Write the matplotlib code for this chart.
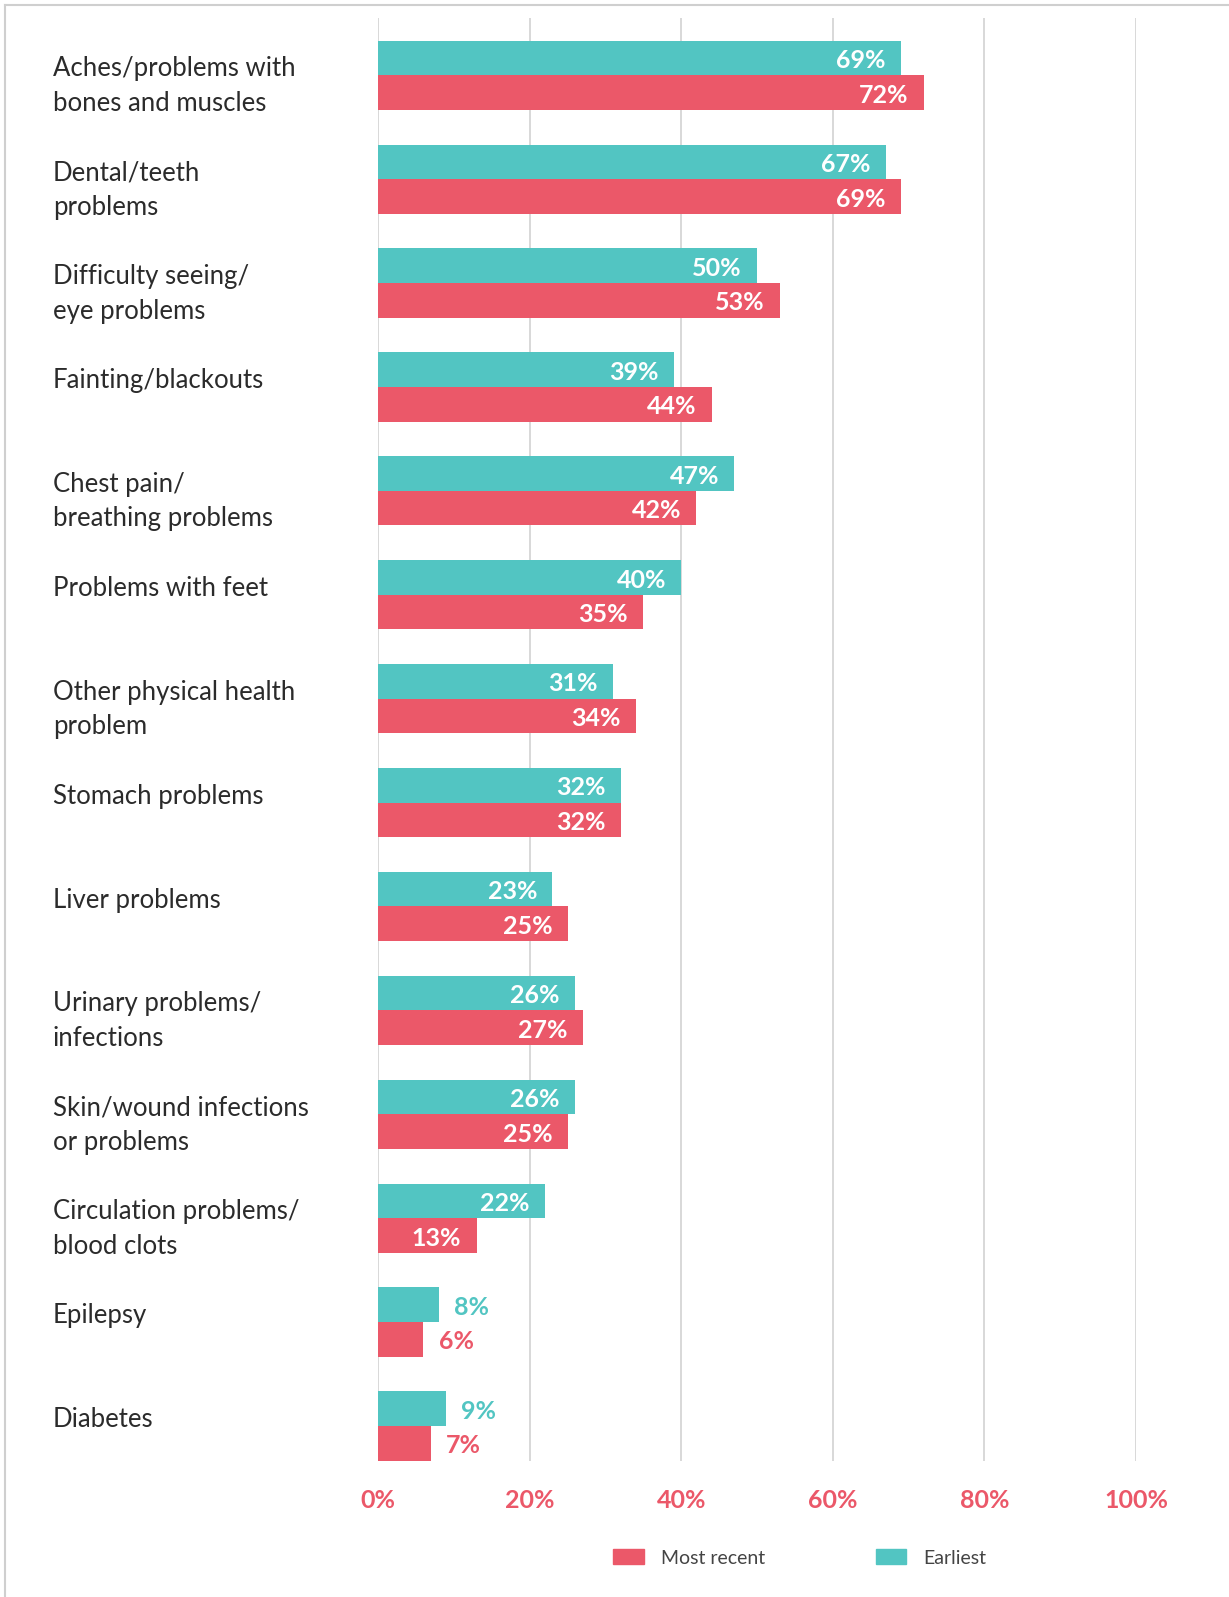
import matplotlib.pyplot as plt
import matplotlib.transforms as mtransforms
from matplotlib.lines import Line2D
from matplotlib.patches import Patch
import numpy as np

categories = [
    "Aches/problems with\nbones and muscles",
    "Dental/teeth\nproblems",
    "Difficulty seeing/\neye problems",
    "Fainting/blackouts",
    "Chest pain/\nbreathing problems",
    "Problems with feet",
    "Other physical health\nproblem",
    "Stomach problems",
    "Liver problems",
    "Urinary problems/\ninfections",
    "Skin/wound infections\nor problems",
    "Circulation problems/\nblood clots",
    "Epilepsy",
    "Diabetes",
]
earliest = [69, 67, 50, 39, 47, 40, 31, 32, 23, 26, 26, 22, 8, 9]
most_recent = [72, 69, 53, 44, 42, 35, 34, 32, 25, 27, 25, 13, 6, 7]
xticks = [0, 20, 40, 60, 80, 100]

TEAL = "#52C5C2"
RED = "#EB5869"
GRID = "#D5D5D5"
FONT = ["Lato", "DejaVu Sans"]

W, H = 1229, 1597
fig = plt.figure(figsize=(W / 100, H / 100), dpi=100)
ax = fig.add_axes([378 / W, 1 - 1461 / H, (1136 - 378) / W, (1461 - 18) / H])

y = np.arange(len(categories))
h = 0.333
ax.barh(y - h / 2, earliest, height=h, color=TEAL, zorder=2)
ax.barh(y + h / 2, most_recent, height=h, color=RED, zorder=2)


def value_label(v, yy, color):
    # inside the bar in white when there is room, else just outside in bar colour
    yy = yy + 0.025
    if v >= 10:
        ax.text(v - 2, yy, f"{v}%", ha="right", va="center", color="white",
                fontsize=18, fontweight="bold", family=FONT, zorder=3)
    else:
        ax.text(v + 2, yy, f"{v}%", ha="left", va="center", color=color,
                fontsize=18, fontweight="bold", family=FONT, zorder=3)


for yy, v in zip(y, earliest):
    value_label(v, yy - h / 2, TEAL)
for yy, v in zip(y, most_recent):
    value_label(v, yy + h / 2, RED)

ax.set_xlim(0, 100)
ax.set_ylim(13 + 0.337, -0.551)

# category labels: one text per line, first baseline near group centre
trans = mtransforms.blended_transform_factory(fig.transFigure, ax.transData)
for yy, lab in zip(y, categories):
    for k, line in enumerate(lab.split("\n")):
        ax.text(53 / W, yy + 0.01 + k * 0.333, line, transform=trans, ha="left",
                va="baseline", fontsize=18.5, color="#2b2b2b", family=FONT,
                clip_on=False)

ax.set_xticks(xticks)
ax.set_xticklabels([f"{t}%" for t in xticks], fontsize=18, fontweight="bold",
                   color=RED, family=FONT)
ax.tick_params(axis="x", length=0, pad=20)
ax.set_yticks([])
ax.grid(axis="x", color=GRID, linewidth=1.3, zorder=0)
for s in ax.spines.values():
    s.set_visible(False)

handles = [Patch(color=RED, label="Most recent"), Patch(color=TEAL, label="Earliest")]
leg = fig.legend(handles=handles, loc="center", bbox_to_anchor=(800 / W, 1 - 1558 / H),
                 ncol=2, frameon=False, handlelength=1.55, handleheight=0.8,
                 handletextpad=0.9, columnspacing=5.7,
                 prop={"family": FONT, "size": 14})
for t in leg.get_texts():
    t.set_color("#444444")

# border of the original panel
fig.add_artist(Line2D([5 / W, 5 / W], [0, 1 - 5 / H], color="#CFCFCF", lw=1.5))
fig.add_artist(Line2D([5 / W, 1], [1 - 5 / H, 1 - 5 / H], color="#CFCFCF", lw=1.5))

fig.savefig("out.png", dpi=100)
